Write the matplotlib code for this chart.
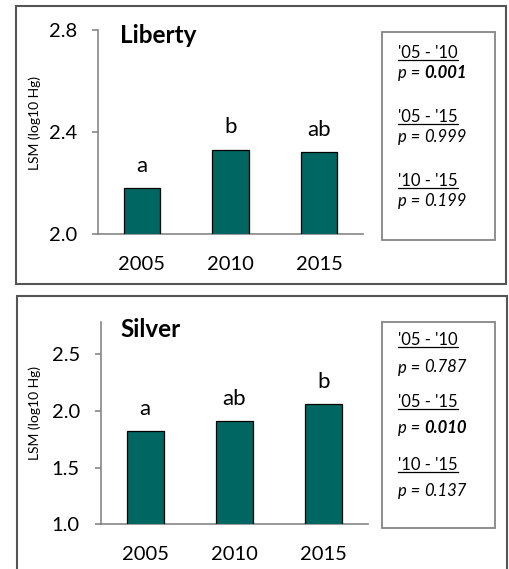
import matplotlib
matplotlib.use("Agg")
import matplotlib.pyplot as plt
from matplotlib.patches import Rectangle
from matplotlib.lines import Line2D

plt.rcParams['font.family'] = ['Lato', 'DejaVu Sans']

# LSM (log10 Hg) by survey year, two lakes
years = ["2005", "2010", "2015"]
liberty_lsm = [2.18, 2.33, 2.32]
silver_lsm = [1.82, 1.91, 2.06]
liberty_groups = ["a", "b", "ab"]
silver_groups = ["a", "ab", "b"]

pair_labels = ["'05 - '10", "'05 - '15", "'10 - '15"]
liberty_p = ["0.001", "0.999", "0.199"]
silver_p = ["0.787", "0.010", "0.137"]
liberty_sig = [True, False, False]
silver_sig = [False, True, False]

W, H = 509, 569
BAR = "#006661"
SPINE = "#868686"
FRAME = "#555555"

fig = plt.figure(figsize=(W / 100, H / 100), dpi=100)


def fx(px):
    return px / W


def fy(py):
    return 1 - py / H


def panel(rect_px, ylim, yticks, values, groups, title, title_xy, ylab_y,
          box_px, heads_y, ps_y, pvals, sig):
    l, t, r, b = rect_px
    ax = fig.add_axes([fx(l), fy(b), fx(r - l), (b - t) / H])
    x = range(len(years))
    ax.bar(x, values, width=0.41, color=BAR, edgecolor="black", linewidth=0.9, zorder=3)
    ax.set_xlim(-0.5, 2.5)
    ax.set_ylim(*ylim)
    ax.set_yticks(yticks)
    ax.set_yticklabels(["%.1f" % v for v in yticks])
    ax.set_xticks(list(x))
    ax.set_xticklabels(years)
    for s in ["top", "right"]:
        ax.spines[s].set_visible(False)
    for s in ["left", "bottom"]:
        ax.spines[s].set_color(SPINE)
        ax.spines[s].set_linewidth(1.2)
    ax.tick_params(axis="y", length=4.5, width=1.2, color=SPINE, pad=10.5, labelsize=14.5)
    ax.tick_params(axis="x", length=0, pad=15.5, labelsize=14.5)
    for xi, v, g in zip(x, values, groups):
        ax.annotate(g, (xi, v), xytext=(0, 9), textcoords="offset points",
                    ha="center", va="bottom", fontsize=16)

    fig.text(fx(title_xy[0]), fy(title_xy[1]), title, fontsize=17.5,
             fontweight="bold", ha="left", va="baseline")
    fig.text(fx(34.5), fy(ylab_y), "LSM (log10 Hg)", rotation=90,
             ha="center", va="center", fontsize=10)

    bl, bt, br, bb = box_px
    fig.patches.append(Rectangle((fx(bl), fy(bb)), fx(br - bl), (bb - bt) / H,
                                 transform=fig.transFigure, fill=False,
                                 edgecolor=SPINE, linewidth=1.3))

    renderer = fig.canvas.get_renderer()
    for lab, hy, py, pv, s in zip(pair_labels, heads_y, ps_y, pvals, sig):
        head = fig.text(fx(398), fy(hy), lab, fontsize=12, ha="left", va="center")
        ext = head.get_window_extent(renderer)
        fig.lines.append(Line2D([ext.x0 / W, ext.x1 / W], [fy(hy + 7)] * 2,
                                transform=fig.transFigure, color="black", linewidth=0.9))
        pre = fig.text(fx(398), fy(py), "p = ", fontsize=12, style="italic",
                       ha="left", va="center")
        ext = pre.get_window_extent(renderer)
        fig.text(ext.x1 / W, fy(py), pv, fontsize=12, style="italic",
                 fontweight="bold" if s else "normal", ha="left", va="center")
    return ax


# outer frames around each panel
fig.patches.append(Rectangle((fx(16), fy(284)), fx(490), 278 / H,
                             transform=fig.transFigure, fill=False,
                             edgecolor=FRAME, linewidth=1.5))
fig.patches.append(Rectangle((fx(17), fy(580)), fx(490), 284 / H,
                             transform=fig.transFigure, fill=False,
                             edgecolor=FRAME, linewidth=1.5))

panel((97.7, 30, 363.2, 234), (2.0, 2.8), [2.0, 2.4, 2.8], liberty_lsm,
      liberty_groups, "Liberty", (120, 42.7), 123.5,
      (381.7, 32, 494.7, 240), [53.3, 116.7, 181], [72.7, 136.7, 201],
      liberty_p, liberty_sig)

panel((100.7, 322.3, 368.3, 524.3), (1.0, 2.78), [1.0, 1.5, 2.0, 2.5], silver_lsm,
      silver_groups, "Silver", (120, 336.7), 413,
      (382, 322, 495, 528), [340, 401.7, 465], [367.5, 428, 490.7],
      silver_p, silver_sig)

fig.savefig("out.png", dpi=100)
